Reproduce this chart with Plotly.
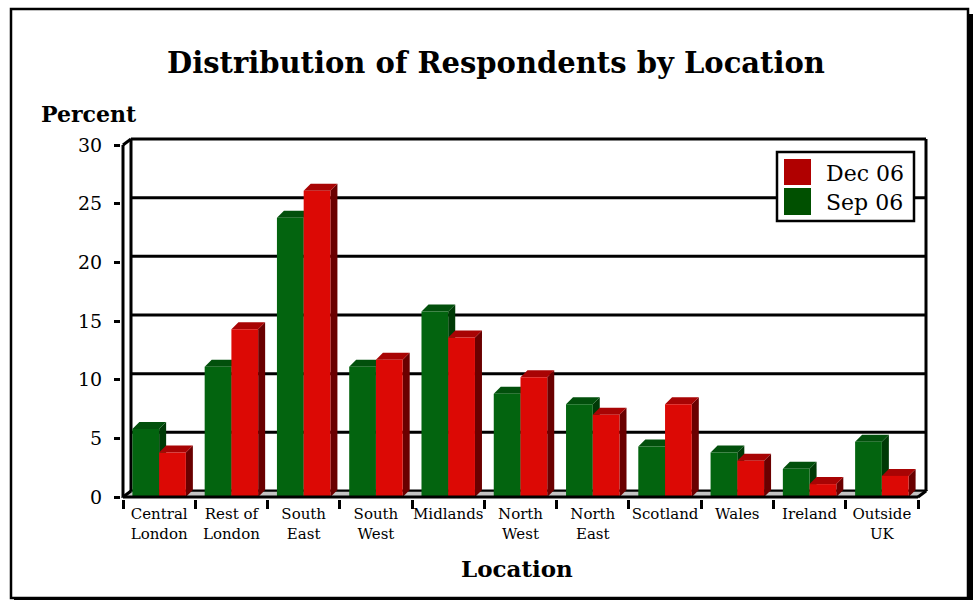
import plotly.graph_objects as go

# data
categories = ["Central<br>London", "Rest of<br>London", "South<br>East", "South<br>West",
              "Midlands", "North<br>West", "North<br>East", "Scotland", "Wales",
              "Ireland", "Outside<br>UK"]
sep06 = [5.8, 11.1, 23.8, 11.1, 15.8, 8.8, 7.9, 4.3, 3.8, 2.4, 4.7]
dec06 = [3.8, 14.3, 26.1, 11.7, 13.6, 10.2, 7.0, 7.9, 3.1, 1.1, 1.8]
series_names = ["Dec 06", "Sep 06"]
y_ticks = [0, 5, 10, 15, 20, 25, 30]

FONT = "DejaVu Serif"
W, H = 973, 600

# pixel layout of the front axes and the 3d depth
front_left, front_right = 123, 918
front_bottom, front_top = 497, 145
wall_dx, wall_dy = 8, 6
bar_dx, bar_dy = 7, 7
n = len(categories)
upx = (front_right - front_left) / n
ypx = (front_bottom - front_top) / 30.0

ML = front_left - 2
MR = W - (front_right + wall_dx + 2)
MT = front_top - wall_dy - 2
MB = H - (front_bottom + 2)
PW = W - ML - MR
PH = H - MT - MB


def px_x(p):
    return (p - ML) / PW


def px_y(p):
    return 1 - (p - MT) / PH


xr = [-0.5 - 2 / upx, n - 0.5 + (wall_dx + 2) / upx]
yr = [-2 / ypx, 30 + (wall_dy + 2) / ypx]
wdx, wdy = wall_dx / upx, wall_dy / ypx
bdx, bdy = bar_dx / upx, bar_dy / ypx

GREEN, GREEN_TOP, GREEN_SIDE = "#03640f", "#02500c", "#003a06"
RED, RED_TOP, RED_SIDE = "#dc0905", "#a80404", "#6a0000"
bw = 0.37
xs = list(range(n))

fig = go.Figure()
fig.add_trace(go.Bar(x=xs, y=sep06, width=bw, offset=-bw, marker_color=GREEN,
                     marker_line_width=0, name=series_names[1], showlegend=False))
fig.add_trace(go.Bar(x=xs, y=dec06, width=bw, offset=0, marker_color=RED,
                     marker_line_width=0, name=series_names[0], showlegend=False))

shapes = []
line = dict(color="black", width=3)
# back wall gridlines and frame
x_wl, x_wr = -0.5 + wdx, n - 0.5 + wdx
for v in y_ticks:
    shapes.append(dict(type="line", xref="x", yref="y", x0=x_wl, x1=x_wr,
                       y0=v + wdy, y1=v + wdy, line=line, layer="below"))
for xv in (x_wl, x_wr):
    shapes.append(dict(type="line", xref="x", yref="y", x0=xv, x1=xv,
                       y0=wdy, y1=30 + wdy, line=line, layer="below"))
# floor
shapes.append(dict(type="path", xref="x", yref="y", layer="below",
                   path=f"M{-0.5},0 L{n - 0.5},0 L{x_wr},{wdy} L{x_wl},{wdy} Z",
                   fillcolor="#c4c4c4", line=dict(color="black", width=1.5)))

# 3d faces of the bars
for vals, off, top_c, side_c in ((sep06, -bw, GREEN_TOP, GREEN_SIDE),
                                 (dec06, 0, RED_TOP, RED_SIDE)):
    for i, v in enumerate(vals):
        x0 = i + off
        x1 = x0 + bw
        shapes.append(dict(type="path", xref="x", yref="y", layer="below",
                           path=f"M{x1},0 L{x1},{v} L{x1 + bdx},{v + bdy} L{x1 + bdx},{bdy} Z",
                           fillcolor=side_c, line=dict(width=0)))
        shapes.append(dict(type="path", xref="x", yref="y", layer="below",
                           path=f"M{x0},{v} L{x1},{v} L{x1 + bdx},{v + bdy} L{x0 + bdx},{v + bdy} Z",
                           fillcolor=top_c, line=dict(width=0)))

# front axis lines (drawn above bars)
shapes.append(dict(type="line", xref="x", yref="y", x0=-0.5, x1=-0.5, y0=0, y1=30, line=line))
shapes.append(dict(type="line", xref="x", yref="y", x0=-0.5, x1=n - 0.5, y0=0, y1=0, line=line))
shapes.append(dict(type="line", xref="x", yref="y", x0=-0.5, x1=x_wl, y0=30, y1=30 + wdy, line=line))
shapes.append(dict(type="line", xref="x", yref="y", x0=-0.5, x1=x_wl, y0=0, y1=wdy, line=line))
shapes.append(dict(type="line", xref="x", yref="y", x0=n - 0.5, x1=x_wr, y0=0, y1=wdy, line=line))

# legend box
shapes.append(dict(type="rect", xref="paper", yref="paper", layer="above",
                   x0=px_x(777), x1=px_x(914), y0=px_y(152), y1=px_y(221),
                   fillcolor="white", line=dict(color="black", width=2.5)))
shapes.append(dict(type="rect", xref="paper", yref="paper", layer="above",
                   x0=px_x(784), x1=px_x(811), y0=px_y(159), y1=px_y(185),
                   fillcolor="#b00000", line=dict(width=0)))
shapes.append(dict(type="rect", xref="paper", yref="paper", layer="above",
                   x0=px_x(784), x1=px_x(811), y0=px_y(188), y1=px_y(215),
                   fillcolor="#005000", line=dict(width=0)))

# outer frame with shadow
shapes.append(dict(type="rect", xref="paper", yref="paper", layer="above",
                   x0=px_x(11), x1=px_x(968), y0=px_y(9), y1=px_y(598),
                   line=dict(color="black", width=2.5)))
shapes.append(dict(type="rect", xref="paper", yref="paper", layer="above",
                   x0=px_x(967), x1=px_x(973), y0=px_y(14), y1=px_y(600),
                   fillcolor="black", line=dict(width=0)))
shapes.append(dict(type="rect", xref="paper", yref="paper", layer="above",
                   x0=px_x(14), x1=px_x(973), y0=px_y(597), y1=px_y(600),
                   fillcolor="black", line=dict(width=0)))

annotations = [
    dict(text="Percent", x=px_x(89), y=px_y(114), xref="paper", yref="paper",
         xanchor="center", yanchor="middle", showarrow=False,
         font=dict(family=FONT, size=22, color="black", weight="bold")),
    dict(text="Location", x=px_x(517), y=px_y(568), xref="paper", yref="paper",
         xanchor="center", yanchor="middle", showarrow=False,
         font=dict(family=FONT, size=23, color="black", weight="bold")),
    dict(text=series_names[0], x=px_x(824), y=px_y(173), xref="paper", yref="paper",
         xanchor="left", yanchor="middle", showarrow=False,
         font=dict(family=FONT, size=22, color="black")),
    dict(text=series_names[1], x=px_x(824), y=px_y(202), xref="paper", yref="paper",
         xanchor="left", yanchor="middle", showarrow=False,
         font=dict(family=FONT, size=22, color="black")),
]

fig.update_layout(
    width=W, height=H,
    margin=dict(l=ML, r=MR, t=MT, b=MB),
    paper_bgcolor="white", plot_bgcolor="white",
    barmode="overlay",
    title=dict(text="Distribution of Respondents by Location", x=496 / W, xanchor="center",
               y=1 - 63 / H, yanchor="middle",
               font=dict(family=FONT, size=29, color="black", weight="bold")),
    xaxis=dict(range=xr, tickvals=xs, ticktext=categories, ticks="", showgrid=False,
               zeroline=False, showline=False, ticklabelstandoff=4,
               tickfont=dict(family=FONT, size=15, color="black"),
               minor=dict(tick0=-0.5, dtick=1, ticks="outside", ticklen=9, tickwidth=2.5,
                          tickcolor="black", showgrid=False)),
    yaxis=dict(range=yr, tickvals=y_ticks, ticks="outside", ticklen=6, tickwidth=2.5,
               tickcolor="black", showgrid=False, zeroline=False, showline=False,
               ticklabelstandoff=8,
               tickfont=dict(family=FONT, size=19, color="black")),
    shapes=shapes,
    annotations=annotations,
    showlegend=False,
)

fig.write_html("out.html", config={"displayModeBar": False},
               post_script="document.body.style.margin='0';")
